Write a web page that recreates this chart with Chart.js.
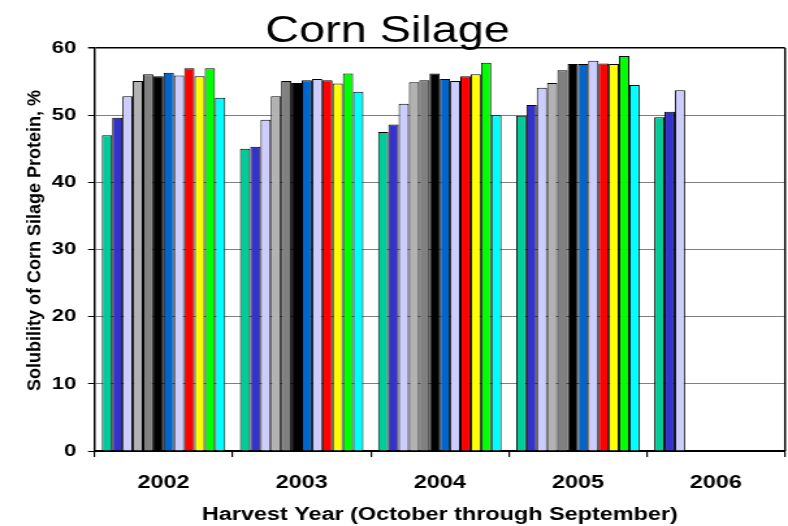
<!DOCTYPE html>
<html><head><meta charset="utf-8">
<script src="https://cdn.jsdelivr.net/npm/chart.js@4/dist/chart.umd.min.js"></script>
<style>
html,body{margin:0;padding:0;background:#fff;overflow:hidden;}
#wrap{position:absolute;left:0;top:0;width:606px;height:526px;transform:scaleX(1.30033);transform-origin:0 0;}
</style></head><body>
<div id="wrap"><canvas id="c"></canvas></div>
<script>
const SX = 788 / 606;
const chartTitle = 'Corn Silage';
const yTitle = 'Solubility of Corn Silage Protein, %';
const xTitle = 'Harvest Year (October through September)';
const categories = ['2002', '2003', '2004', '2005', '2006'];
const yTicks = [0, 10, 20, 30, 40, 50, 60];
const months = ['October','November','December','January','February','March','April','May','June','July','August','September'];
const october   = [47.0, 45.0, 47.5, 49.9, 49.7];
const november  = [49.6, 45.3, 48.6, 51.5, 50.5];
const december  = [52.8, 49.3, 51.7, 54.1, 53.7];
const january   = [55.1, 52.8, 54.9, 54.8, null];
const february  = [56.1, 55.1, 55.2, 56.7, null];
const march     = [55.8, 54.8, 56.2, 57.6, null];
const april     = [56.3, 55.2, 55.4, 57.6, null];
const may       = [55.9, 55.4, 55.1, 58.1, null];
const june      = [57.0, 55.2, 55.8, 57.7, null];
const july      = [55.8, 54.7, 56.1, 57.6, null];
const august    = [57.0, 56.2, 57.8, 58.8, null];
const september = [52.6, 53.5, 50.0, 54.5, null];
const seriesValues = [october, november, december, january, february, march, april, may, june, july, august, september];
const colors = ['#00CC99','#3333CC','#CCCCFF','#B2B2B2','#808080','#000000','#0066CC','#CCCCFF','#FF0000','#FFFF00','#00FF00','#00FFFF'];

const FONT = '"Liberation Sans", Arial, sans-serif';

const extras = {
  id: 'extras',
  afterDraw(chart) {
    const ctx = chart.ctx, a = chart.chartArea;
    ctx.save();
    // right frame
    ctx.strokeStyle = '#000';
    ctx.lineWidth = 1.5;
    ctx.beginPath();
    ctx.moveTo(a.right, a.top);
    ctx.lineTo(a.right, a.bottom);
    ctx.stroke();
    // chart title
    ctx.fillStyle = '#000';
    ctx.font = '36px ' + FONT;
    ctx.textAlign = 'center';
    ctx.textBaseline = 'alphabetic';
    ctx.fillText(chartTitle, 298, 41.7);
    // y axis title (counter-stretched)
    ctx.translate(27.3, 240.5);
    ctx.scale(1 / SX, 1);
    ctx.rotate(-Math.PI / 2);
    ctx.font = 'bold 18px ' + FONT;
    ctx.textBaseline = 'middle';
    ctx.fillText(yTitle, 0, 0);
    ctx.restore();
  }
};

new Chart(document.getElementById('c'), {
  type: 'bar',
  data: {
    labels: categories,
    datasets: seriesValues.map((v, i) => ({
      label: months[i],
      data: v,
      backgroundColor: colors[i],
      borderColor: '#000',
      borderWidth: 1,
      categoryPercentage: 0.894,
      barPercentage: 1.0
    }))
  },
  options: {
    responsive: true,
    maintainAspectRatio: false,
    animation: false,
    devicePixelRatio: 1,
    layout: { padding: { top: 48, right: 2.3, bottom: 0, left: 0 } },
    plugins: { legend: { display: false }, title: { display: false }, tooltip: { enabled: false } },
    scales: {
      x: {
        offset: true,
        grid: { display: true, offset: true, drawOnChartArea: false, drawTicks: true, tickLength: 6, color: '#000', lineWidth: 1.2 },
        border: { display: true, color: '#000', width: 2 },
        ticks: { color: '#000', font: { family: FONT, size: 18, weight: 'bold' }, padding: 15, maxRotation: 0 },
        title: { display: true, text: xTitle, color: '#000', font: { family: FONT, size: 18, weight: 'bold' }, padding: { top: 0, bottom: 0 } },
        afterFit(s) { s.height = 75; }
      },
      y: {
        min: 0, max: 60,
        afterBuildTicks(s) { s.ticks = yTicks.map(v => ({ value: v })); },
        grid: {
          color: (c) => (c.tick && c.tick.value === 60) ? '#000' : '#808080',
          lineWidth: (c) => (c.tick && c.tick.value === 60) ? 1.5 : 1,
          tickColor: '#000', tickLength: 5, drawTicks: true
        },
        border: { display: true, color: '#000', width: 1.5 },
        ticks: { color: '#000', font: { family: FONT, size: 17, weight: 'bold' }, padding: 9 },
        afterFit(s) { s.width = 72.7; }
      }
    }
  },
  plugins: [extras]
});
</script>
</body></html>
